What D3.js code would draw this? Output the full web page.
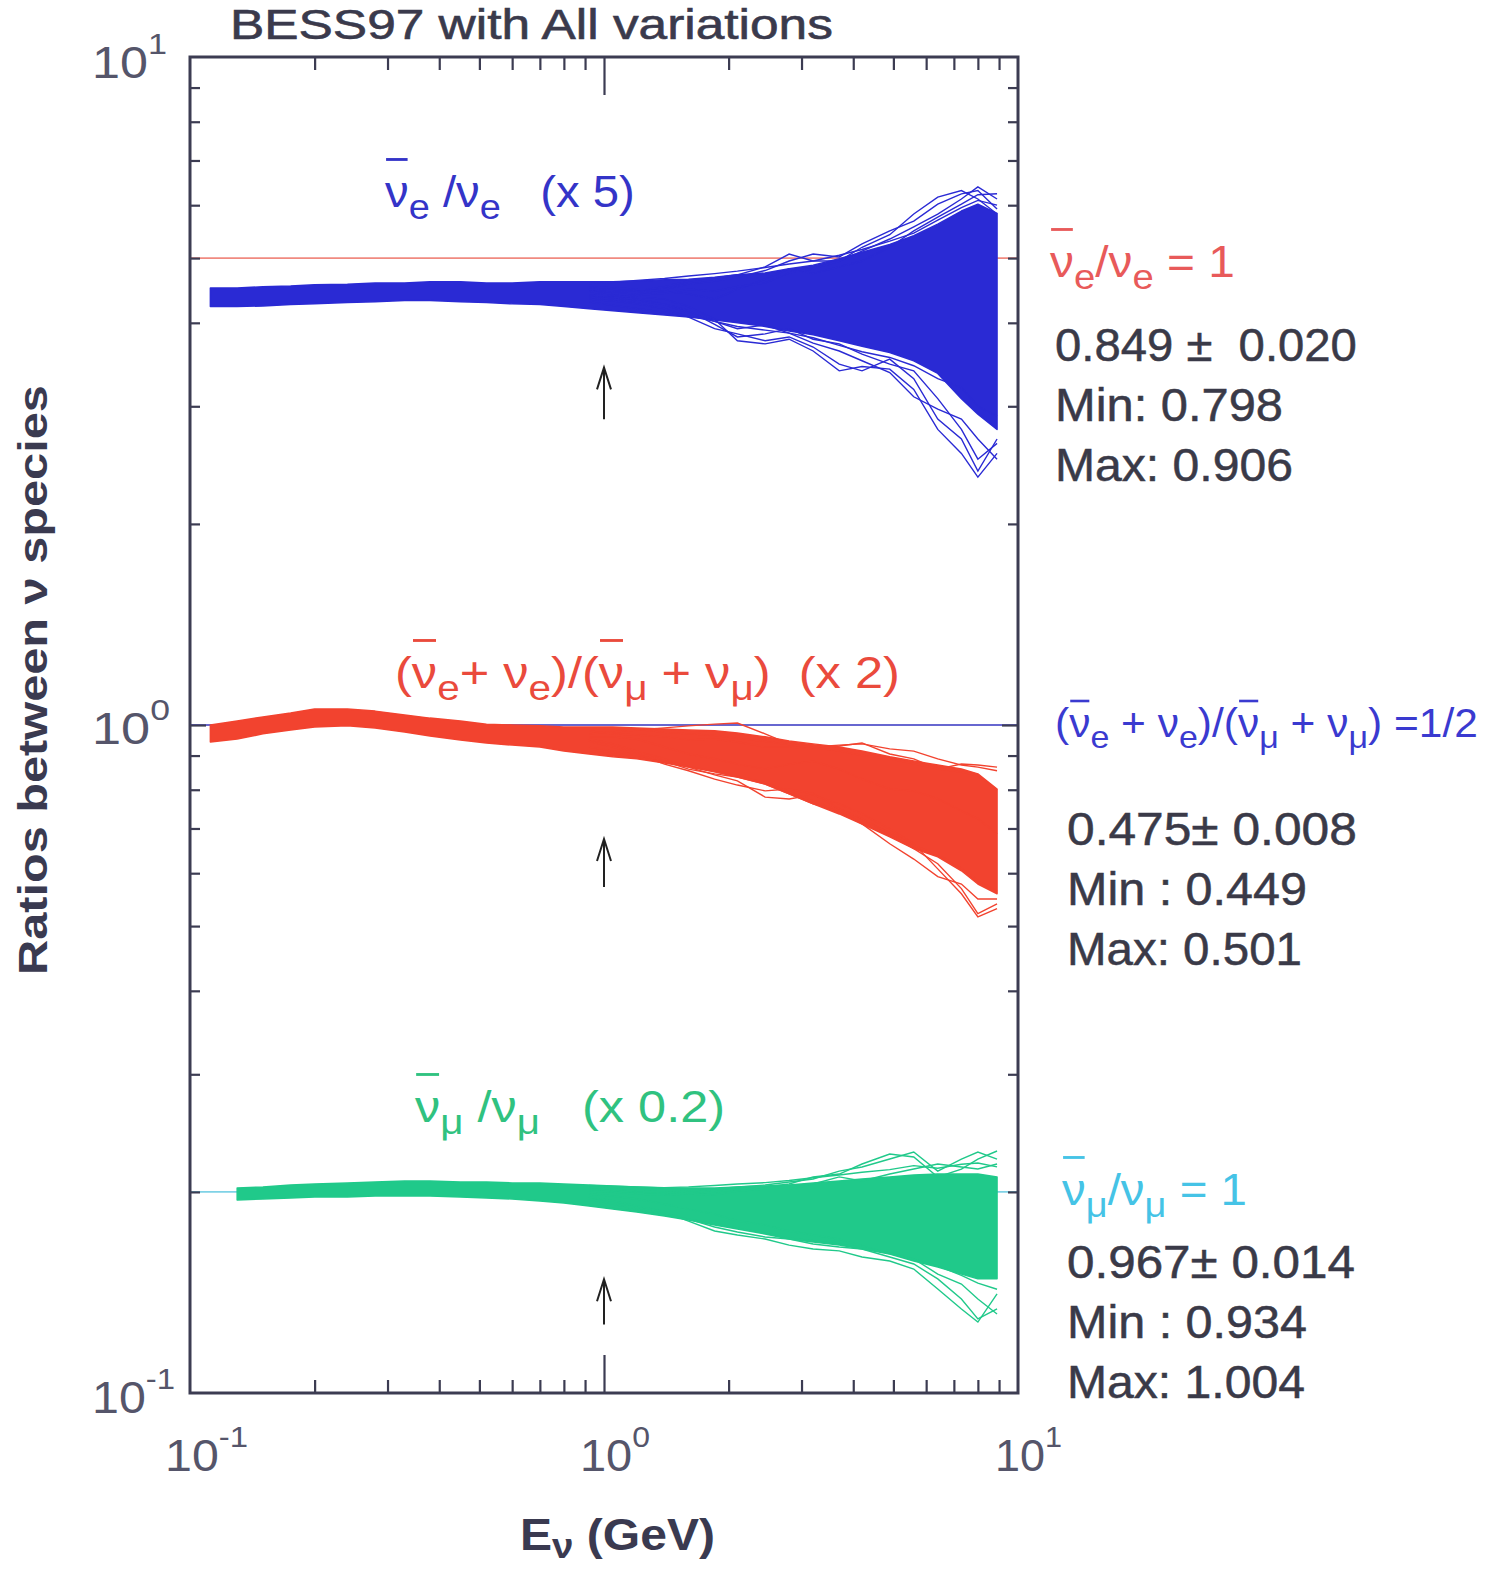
<!DOCTYPE html>
<html><head><meta charset="utf-8">
<script src="https://cdn.jsdelivr.net/npm/d3@7"></script>
<style>body{margin:0;background:#fff} svg{display:block}</style>
</head><body><svg id="c" width="1488" height="1569"></svg>
<script>
// ---------------- data (plotted values, already multiplied by the scale factors) ----------------
const energies = [0.112,0.13,0.15,0.175,0.2,0.24,0.28,0.33,0.38,0.45,0.52,0.6,0.7,0.8,0.92,1.05,1.2,1.4,1.6,1.85,2.1,2.45,2.8,3.2,3.7,4.2,4.9,5.6,6.4,7.3,8.0,8.9];
const energiesGreen = [0.13,0.15,0.175,0.2,0.24,0.28,0.33,0.38,0.45,0.52,0.6,0.7,0.8,0.92,1.05,1.2,1.4,1.6,1.85,2.1,2.45,2.8,3.2,3.7,4.2,4.9,5.6,6.4,7.3,8.0,8.9];
const outlierEnergies = [0.92,1.05,1.2,1.4,1.6,1.85,2.1,2.45,2.8,3.2,3.7,4.2,4.9,5.6,6.4,7.3,8.0,8.9];
const scaleFactors = [5, 2, 0.2];
const referenceValues = [5, 1, 0.2];

// nue-bar / nue (x5): envelope of the dense band
const nueBarNueUpper = [4.51,4.51,4.53,4.54,4.56,4.57,4.59,4.59,4.61,4.61,4.59,4.59,4.61,4.61,4.61,4.61,4.62,4.64,4.65,4.68,4.72,4.75,4.82,4.88,4.99,5.10,5.24,5.40,5.62,5.88,6.02,5.83];
const nueBarNueLower = [4.23,4.23,4.24,4.26,4.27,4.29,4.30,4.32,4.32,4.30,4.29,4.27,4.26,4.23,4.20,4.17,4.14,4.11,4.08,4.04,4.00,3.95,3.89,3.84,3.76,3.69,3.61,3.51,3.36,3.08,2.92,2.77];
const nueBarNueOutliers = [
  [4.49,4.47,4.46,4.53,4.62,4.67,4.72,4.85,5.07,4.95,4.95,5.12,5.34,5.57,5.82,6.13,6.39,6.13],
  [4.46,4.43,4.42,4.49,4.57,4.62,4.68,4.79,4.95,5.07,5.02,5.25,5.49,5.68,6.02,6.24,6.31,5.92],
  [4.40,4.37,4.34,4.27,4.17,3.98,3.81,3.85,3.92,3.78,3.72,3.59,3.47,3.39,3.08,2.77,2.50,2.64],
  [4.34,4.31,4.27,4.20,4.08,3.92,3.85,3.76,3.81,3.68,3.47,3.39,3.53,3.30,2.87,2.68,2.40,2.68],
  [4.40,4.39,4.37,4.34,4.23,4.05,3.76,3.72,3.78,3.63,3.39,3.44,3.41,3.18,2.77,2.55,2.35,2.55],
  [4.53,4.51,4.49,4.46,4.42,4.34,4.49,4.65,4.82,4.74,4.85,4.95,5.19,5.49,5.76,6.02,6.22,6.24],
  [4.37,4.34,4.31,4.26,4.14,4.02,3.92,3.97,3.86,3.73,3.63,3.51,3.37,3.10,2.97,2.87,2.68,2.50],
  [4.45,4.42,4.40,4.43,4.49,4.46,4.53,4.59,4.75,4.82,4.95,5.19,5.42,5.82,6.17,6.31,6.13,5.82],
  [4.30,4.25,4.20,4.15,4.10,4.02,3.95,3.90,3.86,3.80,3.70,3.62,3.55,3.45,3.30,3.20,3.00,2.90],
  [4.58,4.60,4.63,4.66,4.70,4.74,4.78,4.84,4.90,4.95,5.05,5.15,5.30,5.45,5.70,5.95,6.10,6.00]
];

// (nue-bar + nue)/(numu-bar + numu) (x2)
const eOverMuUpper = [1.000,1.014,1.028,1.042,1.057,1.057,1.049,1.035,1.024,1.014,1.003,1.000,0.997,0.993,0.993,0.993,0.990,0.986,0.983,0.980,0.973,0.960,0.946,0.937,0.927,0.914,0.896,0.883,0.871,0.859,0.845,0.802];
const eOverMuLower = [0.943,0.953,0.970,0.983,0.993,0.997,0.990,0.976,0.963,0.950,0.940,0.933,0.927,0.914,0.905,0.896,0.890,0.877,0.865,0.851,0.836,0.816,0.789,0.762,0.736,0.711,0.680,0.653,0.635,0.605,0.578,0.559];
const eOverMuOutliers = [
  [0.970,0.976,0.983,0.990,0.997,1.003,1.007,0.970,0.937,0.927,0.933,0.937,0.921,0.914,0.890,0.871,0.865,0.854],
  [0.946,0.927,0.905,0.874,0.854,0.830,0.813,0.797,0.802,0.789,0.749,0.724,0.687,0.653,0.620,0.569,0.522,0.540],
  [0.953,0.937,0.914,0.890,0.865,0.842,0.825,0.780,0.775,0.786,0.762,0.736,0.699,0.664,0.609,0.559,0.516,0.531],
  [0.980,0.970,0.966,0.960,0.950,0.953,0.943,0.927,0.927,0.921,0.930,0.940,0.905,0.890,0.859,0.874,0.871,0.865],
  [0.927,0.914,0.902,0.883,0.859,0.845,0.836,0.816,0.789,0.762,0.744,0.711,0.664,0.630,0.593,0.578,0.549,0.549],
  [0.960,0.960,0.953,0.927,0.905,0.890,0.874,0.859,0.874,0.883,0.859,0.830,0.802,0.797,0.775,0.744,0.724,0.687],
  [0.985,0.988,0.985,0.975,0.970,0.965,0.955,0.945,0.935,0.925,0.915,0.900,0.890,0.875,0.860,0.850,0.840,0.800],
  [0.915,0.905,0.895,0.880,0.868,0.852,0.838,0.820,0.795,0.770,0.745,0.720,0.690,0.660,0.640,0.610,0.585,0.565]
];

// numu-bar / numu (x0.2)
const numuBarNumuUpper = [0.2027,0.2034,0.2048,0.2055,0.2063,0.2070,0.2077,0.2077,0.2070,0.2070,0.2063,0.2063,0.2055,0.2048,0.2041,0.2034,0.2027,0.2027,0.2027,0.2034,0.2041,0.2048,0.2063,0.2077,0.2091,0.2106,0.2120,0.2127,0.2127,0.2127,0.2106];
const numuBarNumuLower = [0.1945,0.1952,0.1958,0.1965,0.1965,0.1972,0.1972,0.1972,0.1965,0.1958,0.1952,0.1938,0.1925,0.1905,0.1885,0.1866,0.1841,0.1815,0.1784,0.1760,0.1730,0.1700,0.1683,0.1665,0.1643,0.1615,0.1576,0.1544,0.1507,0.1482,0.1482];
const numuBarNumuOutliers = [
  [0.2020,0.2006,0.1999,0.1993,0.2006,0.2020,0.2034,0.2048,0.2070,0.2091,0.2149,0.2179,0.2240,0.2295,0.2149,0.2240,0.2295,0.2240],
  [0.2006,0.1999,0.1986,0.1979,0.1986,0.1999,0.2020,0.2034,0.2055,0.2106,0.2127,0.2202,0.2279,0.2256,0.2106,0.2164,0.2240,0.2303],
  [0.1952,0.1918,0.1885,0.1853,0.1821,0.1772,0.1742,0.1712,0.1700,0.1671,0.1654,0.1643,0.1598,0.1560,0.1482,0.1383,0.1291,0.1336],
  [0.1965,0.1938,0.1905,0.1866,0.1809,0.1748,0.1724,0.1700,0.1665,0.1643,0.1632,0.1598,0.1576,0.1533,0.1431,0.1336,0.1277,0.1407],
  [0.1986,0.1972,0.1952,0.1918,0.1885,0.1853,0.1809,0.1784,0.1748,0.1724,0.1700,0.1660,0.1615,0.1587,0.1507,0.1456,0.1383,0.1313],
  [0.2034,0.2020,0.2006,0.1999,0.1986,0.1979,0.2006,0.2020,0.2020,0.2055,0.2106,0.2077,0.2127,0.2164,0.2202,0.2179,0.2164,0.2202],
  [0.2045,0.2040,0.2035,0.2030,0.2035,0.2045,0.2055,0.2065,0.2080,0.2100,0.2120,0.2140,0.2160,0.2190,0.2170,0.2200,0.2210,0.2180],
  [0.1910,0.1890,0.1870,0.1845,0.1820,0.1790,0.1765,0.1735,0.1705,0.1690,0.1670,0.1650,0.1620,0.1585,0.1550,0.1500,0.1460,0.1430]
];

// arrows at E = 1 GeV
const arrowEnergy = 1;
const arrowTips  = [3.43, 0.675, 0.148];
const arrowTails = [2.87, 0.572, 0.1266];

// ticks
const minorTicks = [0.2,0.3,0.4,0.5,0.6,0.7,0.8,0.9,2,3,4,5,6,7,8,9];
const majorTicks = [1];
const tickLabelExponents = ["-1","0","1"];
const tickLabelValues = [0.1, 1, 10];

// statistics text
const statsLines = [
  ["0.849 \u00b1  0.020", "Min: 0.798", "Max: 0.906"],
  ["0.475\u00b1 0.008", "Min : 0.449", "Max: 0.501"],
  ["0.967\u00b1 0.014", "Min : 0.934", "Max: 1.004"]
];

// ---------------- drawing ----------------
const FONT = "'Liberation Sans', Arial, Helvetica, sans-serif";
const svg = d3.select("#c");
const L = 190, R = 1018, T = 57, B = 1393;
const x = d3.scaleLog().domain([0.1, 10]).range([L, R]);
const y = d3.scaleLog().domain([0.1, 10]).range([B, T]);

const AX = "#3c3c52";
const COL = {blue: "#2a2ad4", red: "#f2432f", green: "#20c98a"};

// reference lines
const refColors = ["#f08a80", "#3434c0", "#7fd2e6"];
referenceValues.forEach((v, i) => {
  svg.append("line").attr("x1", x(0.1)).attr("x2", x(10)).attr("y1", y(v)).attr("y2", y(v))
    .attr("stroke", refColors[i]).attr("stroke-width", 1.6);
});

function band(xs, up, lo, outliers, color) {
  const g = svg.append("g");
  const rows = xs.map((e, i) => ({e, u: up[i], l: lo[i]}));
  g.append("path").datum(rows)
    .attr("d", d3.area().x(d => x(d.e)).y0(d => y(d.l)).y1(d => y(d.u)))
    .attr("fill", color).attr("stroke", color).attr("stroke-width", 1.5).attr("stroke-linejoin", "round");
  const line = d3.line().x(d => x(d[0])).y(d => y(d[1]));
  outliers.forEach(o => {
    g.append("path").datum(outlierEnergies.map((e, i) => [e, o[i]]))
      .attr("d", line).attr("fill", "none").attr("stroke", color).attr("stroke-width", 1.4);
  });
}
band(energies, nueBarNueUpper, nueBarNueLower, nueBarNueOutliers, COL.blue);
band(energies, eOverMuUpper, eOverMuLower, eOverMuOutliers, COL.red);
band(energiesGreen, numuBarNumuUpper, numuBarNumuLower, numuBarNumuOutliers, COL.green);

// arrows
arrowTips.forEach((tip, i) => {
  const ax = x(arrowEnergy), y1 = y(arrowTails[i]), y0 = y(tip);
  const g = svg.append("g").attr("stroke", "#222").attr("stroke-width", 2).attr("fill", "none");
  g.append("line").attr("x1", ax).attr("x2", ax).attr("y1", y1).attr("y2", y0);
  g.append("path").attr("d", `M${ax - 7},${y0 + 22}L${ax},${y0}L${ax + 7},${y0 + 22}`);
});

// axes ticks (inside)
function ticks(axisFn, pos, vals, size, scale) {
  svg.append("g").attr("transform", pos)
    .call(axisFn(scale).tickValues(vals).tickSize(size).tickFormat(""))
    .call(g => g.select(".domain").remove())
    .call(g => g.selectAll("line").attr("stroke", AX).attr("stroke-width", 2.2));
}
ticks(d3.axisBottom, `translate(0,${B})`, minorTicks, -13, x);
ticks(d3.axisTop, `translate(0,${T})`, minorTicks, -13, x);
ticks(d3.axisBottom, `translate(0,${B})`, majorTicks, -38, x);
ticks(d3.axisTop, `translate(0,${T})`, majorTicks, -38, x);
ticks(d3.axisLeft, `translate(${L},0)`, minorTicks, -10, y);
ticks(d3.axisRight, `translate(${R},0)`, minorTicks, -10, y);
ticks(d3.axisLeft, `translate(${L},0)`, majorTicks, -16, y);
ticks(d3.axisRight, `translate(${R},0)`, majorTicks, -16, y);

// frame
svg.append("rect").attr("x", L).attr("y", T).attr("width", R - L).attr("height", B - T)
  .attr("fill", "none").attr("stroke", AX).attr("stroke-width", 3);

// rich text helper
function rich(parent, segs, size, color, opts = {}) {
  const g = parent.append("g");
  const t = g.append("text").attr("font-family", FONT).attr("font-size", size).attr("fill", color)
    .attr("font-weight", opts.weight || "normal").style("white-space", "pre");
  if (opts.stroke) t.attr("stroke", color).attr("stroke-width", opts.stroke);
  let shift = 0, idx = 0; const bars = [];
  const subDy = opts.subDy || 0.28;
  segs.forEach(([s, m]) => {
    const ts = t.append("tspan").text(s);
    let target = 0, fs = size;
    if (m === "s") { target = size * subDy; fs = size * 0.8; }
    else if (m === "p") { target = -size * 0.55; fs = size * 0.68; }
    if (target !== shift) { ts.attr("dy", target - shift); shift = target; }
    ts.attr("font-size", fs);
    if (m === "b") bars.push(idx);
    idx += s.length;
  });
  const by = -size * (opts.barY || 1.08);
  bars.forEach(i => {
    const e = t.node().getExtentOfChar(i);
    g.append("line").attr("x1", e.x + 1).attr("x2", e.x + e.width - 1).attr("y1", by).attr("y2", by)
      .attr("stroke", color).attr("stroke-width", size * 0.065);
  });
  return g;
}
function place(g, left, baseline, width) {
  const bb = g.node().getBBox();
  const k = width ? width / bb.width : 1;
  g.attr("transform", `translate(${left - bb.x * k},${baseline}) scale(${k},1)`);
}

// title
place(rich(svg, [["BESS97 with All variations", ""]], 42, "#3a3a4c", {stroke: 0.6}), 230, 39, 603);

// tick labels
const TL = "#55556a";
const yLabPos = [[92, 1413, 83], [92, 744, 78], [92, 78, 75]];
tickLabelValues.forEach((v, i) => {
  const [lx, by, w] = yLabPos[i];
  place(rich(svg, [["10", ""], [tickLabelExponents[i], "p"]], 44, TL), lx, by, w);
});
const xLabPos = [[165, 1471, 83], [580, 1471, 70], [995, 1471, 67]];
tickLabelValues.forEach((v, i) => {
  const [lx, by, w] = xLabPos[i];
  place(rich(svg, [["10", ""], [tickLabelExponents[i], "p"]], 44, TL), lx, by, w);
});

// axis titles
const yt = svg.append("g").attr("transform", "translate(47,680) rotate(-90)");
place(rich(yt, [["Ratios between \u03bd species", ""]], 40, "#3a3a50", {weight: "bold"}), -295, 0, 590);
place(rich(svg, [["E", ""], ["\u03bd", "s"], [" (GeV)", ""]], 44, "#3a3a50", {weight: "bold", subDy: 0.18}), 520, 1550, 195);

// curve labels
place(rich(svg, [["\u03bd", "b"], ["e", "s"], [" /\u03bd", ""], ["e", "s"], ["   (x 5)", ""]], 44, "#3434c8"), 385, 207, 250);
place(rich(svg, [["(", ""], ["\u03bd", "b"], ["e", "s"], ["+ \u03bd", ""], ["e", "s"], [")/(", ""], ["\u03bd", "b"], ["\u03bc", "s"], [" + \u03bd", ""], ["\u03bc", "s"], [")  (x 2)", ""]], 44, "#ea4a3c"), 395, 688, 505);
place(rich(svg, [["\u03bd", "b"], ["\u03bc", "s"], [" /\u03bd", ""], ["\u03bc", "s"], ["   (x 0.2)", ""]], 44, "#30c280"), 415, 1122, 310);

// right-hand annotations
place(rich(svg, [["\u03bd", "b"], ["e", "s"], ["/\u03bd", ""], ["e", "s"], [" = 1", ""]], 44, "#e85a5a"), 1050, 277, 185);
place(rich(svg, [["(", ""], ["\u03bd", "b"], ["e", "s"], [" + \u03bd", ""], ["e", "s"], [")/(", ""], ["\u03bd", "b"], ["\u03bc", "s"], [" + \u03bd", ""], ["\u03bc", "s"], [") =1/2", ""]], 40, "#3a3ad0", {barY: 0.9}), 1055, 737, 423);
place(rich(svg, [["\u03bd", "b"], ["\u03bc", "s"], ["/\u03bd", ""], ["\u03bc", "s"], [" = 1", ""]], 44, "#45c3e6"), 1062, 1205, 185);

const statPos = [
  {left: 1055, base: [361, 421, 481], w: [302, 228, 238]},
  {left: 1067, base: [845, 905, 965], w: [290, 240, 235]},
  {left: 1067, base: [1278, 1338, 1398], w: [288, 240, 238]}
];
statsLines.forEach((lines, i) => {
  lines.forEach((s, j) => {
    place(rich(svg, [[s, ""]], 46, "#3a3a48", {stroke: 0.5}), statPos[i].left, statPos[i].base[j], statPos[i].w[j]);
  });
});
</script>
</body></html>
